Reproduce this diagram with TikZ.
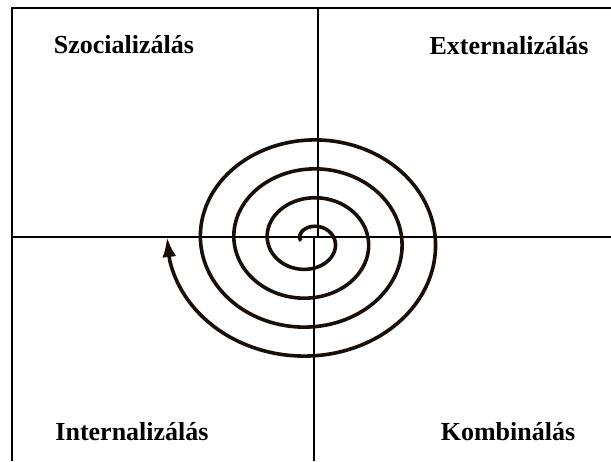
\documentclass[tikz,border=0pt]{standalone}
\usepackage{fontspec}
\setmainfont{Liberation Serif}
\usepackage{tikz}
\usetikzlibrary{arrows.meta}

\begin{document}
\begin{tikzpicture}[
  x=1pt,y=-1pt,
  axis/.style={draw=black,line width=1.7pt},
  spiral/.style={draw=black!88!brown,line width=3.6pt,line join=round},
  phase/.style={font=\fontsize{26}{30}\selectfont\bfseries,inner sep=0pt,anchor=base}
]
\useasboundingbox (0,0) rectangle (611,461);
% frame and quadrants
\draw[axis] (611,8) -- (12,8) -- (12,461);
\draw[axis] (318,8) -- (318,237);
\draw[axis] (314,237) -- (314,461);
\draw[axis] (12,237) -- (611,237);
% labels
\node[phase] (szoc) at (124,53) {Szocializálás};
\node[phase] (ext) at (509,54) {Externalizálás};
\node[phase] (int) at (132,440) {Internalizálás};
\node[phase] (komb) at (508,440) {Kombinálás};
% spiral
\coordinate (tip) at (167,237);
\draw[spiral,-{Latex[length=20pt,width=14pt]}]
  plot[domain=0:7.955,samples=500,smooth]
  ({309.6+(8.6+16.75*\x)*cos(180-180*\x)},{240.75-(6.5+14.5*\x)*sin(180-180*\x)})
  -- (tip);
\end{tikzpicture}
\end{document}
